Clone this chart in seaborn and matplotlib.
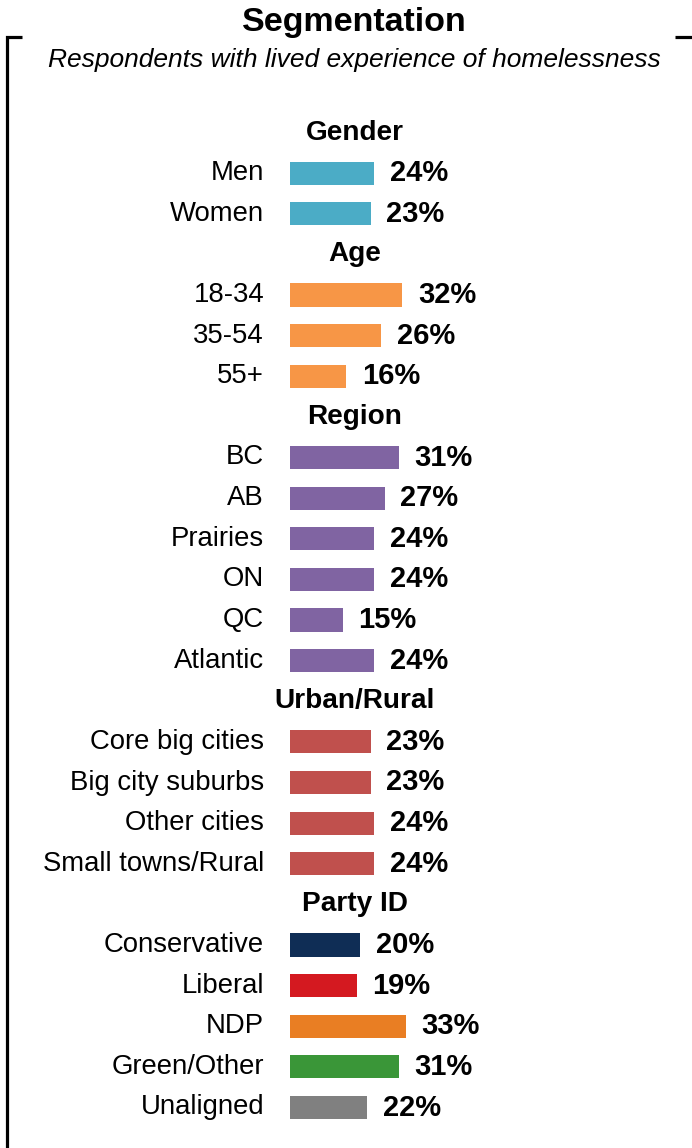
import matplotlib
matplotlib.use("Agg")
import matplotlib.pyplot as plt
from matplotlib.lines import Line2D
import seaborn as sns
import pandas as pd

sns.set_theme(style="white")
plt.rcParams["font.family"] = ["Liberation Sans", "DejaVu Sans"]

# Segment groups, their categories and shares (%)
groups = ["Gender", "Age", "Region", "Urban/Rural", "Party ID"]
gender_labels = ["Men", "Women"]
gender_values = [24, 23]
age_labels = ["18-34", "35-54", "55+"]
age_values = [32, 26, 16]
region_labels = ["BC", "AB", "Prairies", "ON", "QC", "Atlantic"]
region_values = [31, 27, 24, 24, 15, 24]
urban_labels = ["Core big cities", "Big city suburbs", "Other cities", "Small towns/Rural"]
urban_values = [23, 23, 24, 24]
party_labels = ["Conservative", "Liberal", "NDP", "Green/Other", "Unaligned"]
party_values = [20, 19, 33, 31, 22]

group_colors = ["#4BACC6", "#F79646", "#8064A2", "#C0504D", None]
party_colors = ["#0F2D55", "#D41920", "#E97E23", "#3A9638", "#808080"]

title = "Segmentation"
subtitle = "Respondents with lived experience of homelessness"

# Assemble rows: a header row per group followed by its categories
all_labels = [gender_labels, age_labels, region_labels, urban_labels, party_labels]
all_values = [gender_values, age_values, region_values, urban_values, party_values]
order, rows = [], []
for g, labs, vals, gc in zip(groups, all_labels, all_values, group_colors):
    order.append(g)
    for i, (lab, v) in enumerate(zip(labs, vals)):
        color = gc if gc is not None else party_colors[i]
        key = f"{g}|{lab}"
        order.append(key)
        rows.append({"key": key, "label": lab, "value": v, "color": color})
df = pd.DataFrame(rows)
palette = dict(zip(df["key"], df["color"]))

W, H, DPI = 692, 1148, 100
fig = plt.figure(figsize=(W / DPI, H / DPI), dpi=DPI)
fig.patch.set_facecolor("white")

# Axes placement (pixels): bars start at x=290, 3.5 px per percentage point
row_top, row_step = 132.5, 40.625
n_rows = len(order)
x0 = 290
px_per_pct = 3.5
ax_top = row_top - 0.5 * row_step
ax_bot = row_top + (n_rows - 0.5) * row_step
ax = fig.add_axes([x0 / W, (H - ax_bot) / H, (W - x0) / W, (ax_bot - ax_top) / H])

sns.barplot(data=df, x="value", y="key", hue="key", order=order, hue_order=list(df["key"]),
            palette=palette, orient="h", width=0.57, legend=False, ax=ax,
            saturation=1, linewidth=0)

ax.set_xlim(0, (W - x0) / px_per_pct)
ax.set_ylim(n_rows - 0.5, -0.5)
ax.axis("off")

label_fs = 19.8
value_fs = 21
head_fs = 20.2
head_x = (354.5 - x0) / px_per_pct

for idx, key in enumerate(order):
    if key in groups:
        ax.text(head_x, idx, key, ha="center", va="center", fontsize=head_fs,
                fontweight="bold", color="black")
        continue
    r = df[df["key"] == key].iloc[0]
    ax.annotate(r["label"], xy=(0, idx), xytext=(-18.7, 0), textcoords="offset points",
                ha="right", va="center", fontsize=label_fs, color="black")
    ax.annotate(f"{r['value']}%", xy=(r["value"], idx), xytext=(11.5, 0),
                textcoords="offset points", ha="left", va="center",
                fontsize=value_fs, fontweight="bold", color="black")

# Title and subtitle
fig.text(354 / W, 1 - 22 / H, title, ha="center", va="center", fontsize=24.5,
         fontweight="bold", color="black")
fig.text(354 / W, 1 - 60 / H, subtitle, ha="center", va="center", fontsize=19,
         fontstyle="italic", color="black")

# Bracket framing the panel
def px_line(xs, ys):
    fig.add_artist(Line2D([x / W for x in xs], [1 - y / H for y in ys],
                          color="black", linewidth=2.3, solid_capstyle="butt",
                          solid_joinstyle="miter", transform=fig.transFigure))

px_line([22, 7, 7], [36.5, 36.5, 1150])
px_line([675, 692], [37, 37])

fig.savefig("out.png", dpi=DPI, facecolor="white")
